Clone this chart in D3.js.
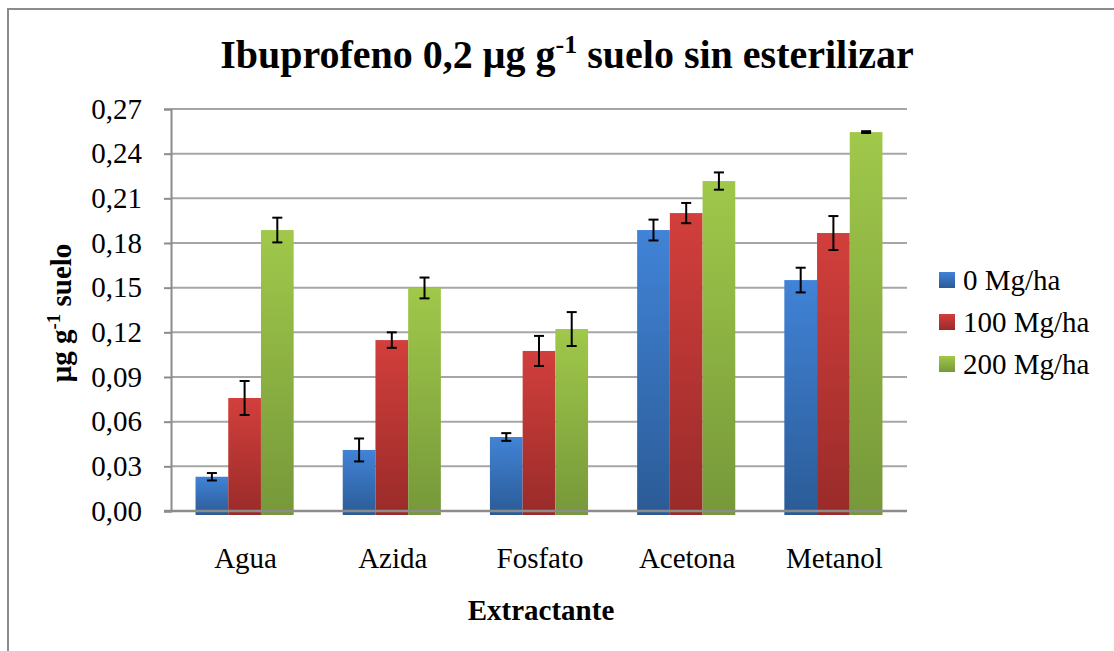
<!DOCTYPE html>
<html><head><meta charset="utf-8">
<script src="https://cdn.jsdelivr.net/npm/d3@7"></script>
<style>html,body{margin:0;padding:0;background:#fff;}svg{display:block;}</style>
</head><body>
<svg id="c" width="1114" height="651"></svg>
<script>
const categories = ["Agua","Azida","Fosfato","Acetona","Metanol"];
const seriesNames = ["0 Mg/ha","100 Mg/ha","200 Mg/ha"];
const values0   = [0.023, 0.041, 0.0497, 0.1887, 0.1551];
const values100 = [0.0759, 0.1148, 0.1075, 0.2001, 0.1867];
const values200 = [0.1887, 0.1498, 0.1222, 0.2216, 0.2545];
const err0   = [0.0025, 0.0077, 0.0026, 0.0070, 0.0083];
const err100 = [0.0114, 0.0052, 0.0101, 0.0068, 0.0114];
const err200 = [0.0083, 0.0070, 0.0114, 0.0058, 0.0006];
const yTicks = [0,0.03,0.06,0.09,0.12,0.15,0.18,0.21,0.24,0.27];

const allVals = [values0, values100, values200];
const allErr = [err0, err100, err200];
const colors = [["#4183d7","#2b5b96"],["#d23f3c","#992b29"],["#a0c84a","#76983a"]];

const svg = d3.select("#c");
const font = "'Liberation Serif','Times New Roman',serif";
const L=171, R=907, T=109, B=511;
const FS = 29;

// outer border
svg.append("path").attr("d","M8,651 L8,9 L1114,9").attr("fill","none").attr("stroke","#8c8c8c").attr("stroke-width",2);

const defs = svg.append("defs");
colors.forEach((c,i)=>{
  const g = defs.append("linearGradient").attr("id","g"+i).attr("x1",0).attr("y1",0).attr("x2",0).attr("y2",1);
  g.append("stop").attr("offset","0%").attr("stop-color",c[0]);
  g.append("stop").attr("offset","100%").attr("stop-color",c[1]);
});

const x = d3.scaleBand().domain(categories).range([L,R]).paddingInner(0).paddingOuter(0);
const y = d3.scaleLinear().domain([0,0.27]).range([B,T]);
const xs = d3.scaleBand().domain([0,1,2]).range([0, x.bandwidth()]).paddingOuter(0.75).paddingInner(0);

// gridlines
svg.append("g").selectAll("line").data(yTicks.filter(d=>d>0)).join("line")
  .attr("x1",L).attr("x2",R).attr("y1",d=>y(d)).attr("y2",d=>y(d))
  .attr("stroke","#a6a6a6").attr("stroke-width",2);

// y axis
const fmt = d => d3.format(".2f")(d).replace(".",",");
const yAxis = svg.append("g").attr("transform",`translate(${L},0)`)
  .call(d3.axisLeft(y).tickValues(yTicks).tickFormat(fmt).tickSize(7).tickPadding(22));
yAxis.select(".domain").attr("stroke","#8c8c8c").attr("stroke-width",2);
yAxis.selectAll(".tick line").attr("stroke","#8c8c8c").attr("stroke-width",2);
yAxis.selectAll(".tick text").attr("font-family",font).attr("font-size",FS).attr("fill","#000");

// bars
const groups = svg.append("g").selectAll("g").data(categories).join("g")
  .attr("transform",d=>`translate(${x(d)},0)`);
[0,1,2].forEach(s=>{
  groups.append("rect")
    .attr("x",xs(s)).attr("width",xs.bandwidth())
    .attr("y",(d,i)=>y(allVals[s][i])).attr("height",(d,i)=>B+4-y(allVals[s][i]))
    .attr("fill",`url(#g${s})`);
});

// x axis line
svg.append("line").attr("x1",L-7).attr("x2",R).attr("y1",B).attr("y2",B).attr("stroke","#8c8c8c").attr("stroke-width",2.5);

// error bars
[0,1,2].forEach(s=>{
  groups.each(function(d,i){
    const g = d3.select(this);
    const cx = xs(s)+xs.bandwidth()/2;
    const v = allVals[s][i], e = allErr[s][i];
    const y1 = y(v+e), y2 = y(v-e);
    g.append("line").attr("x1",cx).attr("x2",cx).attr("y1",y1).attr("y2",y2).attr("stroke","#000").attr("stroke-width",2);
    [y1,y2].forEach(yy=>g.append("line").attr("x1",cx-5).attr("x2",cx+5).attr("y1",yy).attr("y2",yy).attr("stroke","#000").attr("stroke-width",2));
  });
});

// x labels
svg.append("g").selectAll("text").data(categories).join("text")
  .attr("x",d=>x(d)+x.bandwidth()/2+1).attr("y",568)
  .attr("text-anchor","middle").attr("font-family",font).attr("font-size",FS).attr("fill","#000").text(d=>d);

// axis titles
svg.append("text").attr("x",541).attr("y",620).attr("text-anchor","middle")
  .attr("font-family",font).attr("font-size",FS).attr("font-weight","bold").text("Extractante");

const yt = svg.append("text").attr("transform","translate(71,313) rotate(-90)").attr("text-anchor","middle")
  .attr("font-family",font).attr("font-size",FS).attr("font-weight","bold");
yt.append("tspan").text("μg g");
yt.append("tspan").attr("dy",-11).attr("font-size",19).text("-1");
yt.append("tspan").attr("dy",11).text(" suelo");

// title
const tt = svg.append("text").attr("x",567).attr("y",68).attr("text-anchor","middle")
  .attr("font-family",font).attr("font-size",40).attr("font-weight","bold");
tt.append("tspan").text("Ibuprofeno 0,2 μg g");
tt.append("tspan").attr("dy",-15).attr("font-size",26).text("-1");
tt.append("tspan").attr("dy",15).text(" suelo sin esterilizar");

// legend
const lg = svg.append("g").selectAll("g").data(seriesNames).join("g")
  .attr("transform",(d,i)=>`translate(939,${272+i*42})`);
lg.append("rect").attr("width",16).attr("height",16).attr("fill",(d,i)=>`url(#g${i})`);
lg.append("text").attr("x",24).attr("y",18).attr("font-family",font).attr("font-size",FS).attr("fill","#000").text(d=>d);
</script>
</body></html>
